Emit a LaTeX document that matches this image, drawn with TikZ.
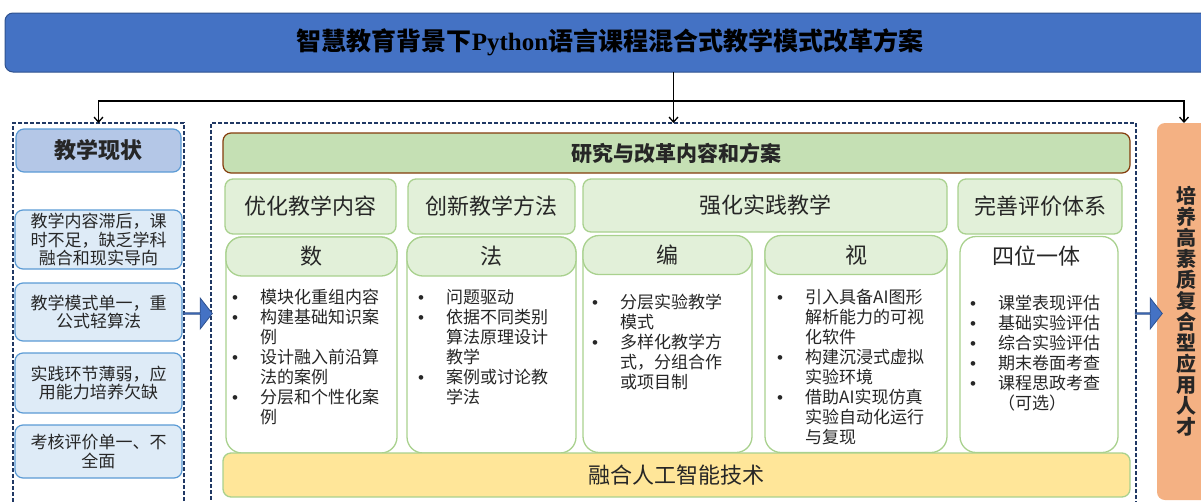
\documentclass[tikz,border=0pt]{standalone}
\usepackage{fontspec}
\setmainfont{Noto Sans CJK SC}
\newfontfamily\latinserif{Liberation Serif}
\newfontfamily\bulfont{Liberation Sans}
\usetikzlibrary{shapes.arrows,arrows.meta}
\definecolor{titleblue}{HTML}{4472C4}
\definecolor{titleborder}{HTML}{2F528F}
\definecolor{navy}{HTML}{203864}
\definecolor{curfill}{HTML}{B4C7E7}
\definecolor{itemfill}{HTML}{DEEBF7}
\definecolor{itemborder}{HTML}{5B9BD5}
\definecolor{headgreen}{HTML}{C5E0B4}
\definecolor{brown}{HTML}{843C0C}
\definecolor{lightgreen}{HTML}{E2F0D9}
\definecolor{greenborder}{HTML}{A9D18E}
\definecolor{yellowfill}{HTML}{FFE699}
\definecolor{orangefill}{HTML}{F4B183}
\definecolor{textc}{HTML}{262626}
\newcommand\bi{\makebox[28pt][l]{\bulfont •}}
\newcommand\ind{\hspace*{28pt}}
\begin{document}
\begin{tikzpicture}[x=1pt,y=-1pt,
  wh/.style 2 args={minimum width=#1pt, minimum height=#2pt},
  box/.style={draw, rounded corners=8pt, inner sep=0pt, outer sep=0pt, align=center, line width=1pt, text=textc},
  titlebox/.style={box, fill=titleblue, draw=titleborder, text=black, font=\bfseries\fontsize{25}{30}\selectfont},
  dashbox/.style={draw=navy, line width=1.5pt, dash pattern=on 4pt off 2pt, inner sep=0pt, outer sep=0pt},
  curhead/.style={box, fill=curfill, draw=itemborder, line width=1.2pt, font=\bfseries\fontsize{22}{26}\selectfont},
  curitem/.style={box, fill=itemfill, draw=itemborder, line width=1.2pt, font=\fontsize{17}{18.5}\selectfont},
  reshead/.style={box, fill=headgreen, draw=brown, line width=1.2pt, font=\bfseries\fontsize{21}{26}\selectfont},
  colhead/.style={box, fill=lightgreen, draw=greenborder, line width=1.3pt, font=\fontsize{22}{26}\selectfont},
  subbox/.style={box, fill=white, draw=greenborder, line width=1.3pt, rounded corners=16pt},
  subhead/.style={box, fill=lightgreen, draw=greenborder, line width=1.3pt, rounded corners=16pt, font=\fontsize{22}{26}\selectfont},
  listtext/.style={inner sep=0pt, anchor=north west, align=left, text=textc, font=\fontsize{17}{20}\selectfont},
  yellowbar/.style={box, fill=yellowfill, draw=greenborder, line width=1.3pt, font=\fontsize{22}{26}\selectfont},
  goalbox/.style={box, fill=orangefill, draw=none, font=\bfseries\fontsize{20}{21}\selectfont},
  barrow/.style={single arrow, fill=titleblue, draw=titleborder, line width=0.8pt, inner sep=0pt, single arrow head extend=8pt, single arrow tip angle=104},
  arr/.style={-{Straight Barb[length=5pt,width=9pt,line width=1.3pt]}, line width=1.6pt, black}
]
\useasboundingbox (0,0) rectangle (1201,501);
\clip (0,0) rectangle (1201,501);

% title
\node[titlebox, wh={1210}{59}] (title) at (610,42.5) {智慧教育背景下{\latinserif\bfseries Python}语言课程混合式教学模式改革方案};

% left column
\node[dashbox, wh={171}{387}] (cur) at (98.5,316.5) {};
\node[curhead, wh={165}{43}] (curh) at (98.5,150.5) {教学现状};
\node[curitem, wh={167}{59}] (c1) at (98.5,239.5) {教学内容滞后，课\\时不足，缺乏学科\\融合和现实导向};
\node[curitem, wh={167}{58}] (c2) at (98.5,312) {教学模式单一，重\\公式轻算法};
\node[curitem, wh={167}{60}] (c3) at (98.5,383) {实践环节薄弱，应\\用能力培养欠缺};
\node[curitem, wh={167}{53}] (c4) at (98.5,451.5) {考核评价单一、不\\全面};

% middle
\node[dashbox, wh={925}{387}] (mid) at (673.5,316.5) {};
\node[reshead, wh={907}{40}] (res) at (676.5,153) {研究与改革内容和方案};

\node[colhead, wh={171}{55}] (h1) at (310.5,206.5) {优化教学内容};
\node[colhead, wh={167}{55}] (h2) at (491.5,206.5) {创新教学方法};
\node[colhead, wh={364}{53}] (h3) at (765,205.5) {强化实践教学};
\node[colhead, wh={164}{55}] (h4) at (1040,206.5) {完善评价体系};

\node[subbox, wh={171}{216}] (s1) at (311.5,345) {};
\node[subbox, wh={169}{216}] (s2) at (491.5,345) {};
\node[subbox, wh={169}{216}] (s3) at (667.5,344.5) {};
\node[subbox, wh={182}{216}] (s4) at (856,344.5) {};
\node[subbox, wh={158}{216}] (s5) at (1039,344.5) {};

\node[subhead, wh={171}{39}] (s1h) at (311.5,256.5) {数};
\node[subhead, wh={169}{39}] (s2h) at (491.5,256.5) {法};
\node[subhead, wh={169}{39}] (s3h) at (667.5,255) {编};
\node[subhead, wh={182}{39}] (s4h) at (856,255) {视};
\node[inner sep=0pt, text=textc, font=\fontsize{22}{26}\selectfont] (s5h) at (1036,256) {四位一体};

\node[listtext] (l1) at (232,289) {\bi 模块化重组内容\\\bi 构建基础知识案\\\ind 例\\\bi 设计融入前沿算\\\ind 法的案例\\\bi 分层和个性化案\\\ind 例};
\node[listtext] (l2) at (418,289) {\bi 问题驱动\\\bi 依据不同类别\\\ind 算法原理设计\\\ind 教学\\\bi 案例或讨论教\\\ind 学法};
\node[listtext] (l3) at (592,293.5) {\bi 分层实验教学\\\ind 模式\\\bi 多样化教学方\\\ind 式，分组合作\\\ind 或项目制};
\node[listtext] (l4) at (777,288.5) {\bi 引入具备AI图形\\\ind 解析能力的可视\\\ind 化软件\\\bi 构建沉浸式虚拟\\\ind 实验环境\\\bi 借助AI实现仿真\\\ind 实验自动化运行\\\ind 与复现};
\node[listtext] (l5) at (970,294.5) {\bi 课堂表现评估\\\bi 基础实验评估\\\bi 综合实验评估\\\bi 期末卷面考查\\\bi 课程思政考查\\\ind （可选）};

\node[yellowbar, wh={907}{44}] (ai) at (676.5,475) {融合人工智能技术};

% right
\node[goalbox, wh={58}{377}] (goal) at (1186,311.5) {培\\养\\高\\素\\质\\复\\合\\型\\应\\用\\人\\才};

% connectors
\coordinate (bus) at (673.5,101);
\draw[arr] (title.south -| mid.north) -- (mid.north);
\draw[arr] (bus) -| (cur.north);
\draw[arr] (bus) -| ([xshift=-2pt]goal.north);

\node[barrow, minimum height=29pt, minimum width=31pt] (a1) at (197.5,313.5) {};
\node[barrow, minimum height=27pt, minimum width=31pt] (a2) at (1148.5,313.5) {};
\end{tikzpicture}
\end{document}
